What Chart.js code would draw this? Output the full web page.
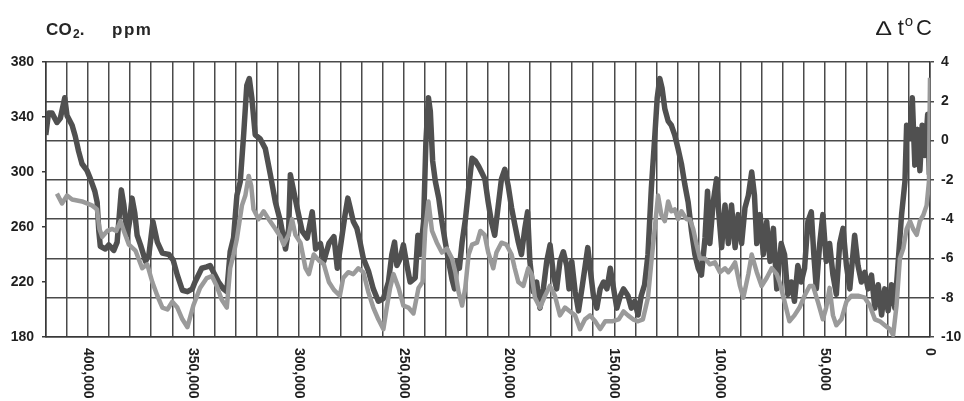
<!DOCTYPE html>
<html>
<head>
<meta charset="utf-8">
<title>CO2 and temperature, last 420,000 years</title>
<script src="https://cdn.jsdelivr.net/npm/chart.js@4/dist/chart.umd.min.js"></script>
<style>
  html, body { margin: 0; padding: 0; background: #fff; }
  #wrap { position: relative; width: 964px; height: 401px; overflow: hidden; }
  #chart { position: absolute; left: 0; top: 0; }
  .title { position: absolute; color: #262626; font-family: "Liberation Sans", Arial, sans-serif; line-height: 1; white-space: nowrap; }
  #tLeft { left: 46px; top: 21px; font-size: 17px; font-weight: bold; letter-spacing: 0.3px; }
  #tLeft .sub { font-size: 12px; position: relative; top: 3px; letter-spacing: 0; margin-left: 1px; }
  #tUnit { left: 112px; top: 21px; font-size: 17px; font-weight: bold; letter-spacing: 1.5px; }
  #tRight { right: 32px; top: 17px; font-size: 22px; color: #1f1f1f; }
  #tRight .delta { display: inline-block; font-size: 20px; transform: scaleX(1.25); transform-origin: right center; margin-right: 6px; }
  #tRight .deg { font-size: 15px; position: relative; top: -9px; margin: 0 3px 0 1px; }
</style>
</head>
<body>
<div id="wrap">
  <canvas id="chart" width="964" height="401"></canvas>
  <div class="title" id="tLeft">CO<span class="sub">2</span>.</div>
  <div class="title" id="tUnit">ppm</div>
  <div class="title" id="tRight"><span class="delta">∆</span>t<span class="deg">o</span>C</div>
</div>
<script>
// Years before present (thousands) and CO2 concentration, ppm
const co2Age = [
  420.1, 418.8, 417.2, 414.8, 413.2, 411.1, 410.0, 407.6, 406.1, 404.5,
  402.9, 400.5, 398.9, 396.8, 395.7, 394.9, 394.2, 391.8, 390.2, 387.8,
  386.2, 384.2, 383.0, 381.4, 380.3, 379.1, 377.8, 376.7, 375.1, 372.7,
  371.1, 369.2, 367.1, 364.7, 361.6, 359.6, 357.6, 355.2, 352.8, 350.5,
  349.2, 346.0, 343.6, 342.0, 340.4, 338.0, 335.7, 334.1, 332.5, 330.9,
  329.3, 327.7, 326.1, 324.6, 323.4, 322.2, 320.6, 318.2, 315.8, 313.4,
  311.0, 308.6, 306.2, 304.7, 303.9, 302.3, 300.7, 298.3, 295.9, 293.5,
  291.9, 289.6, 288.0, 285.6, 283.2, 281.6, 279.5, 277.9, 276.6, 275.5,
  274.0, 272.3, 270.8, 269.2, 266.8, 264.5, 262.1, 259.7, 257.3, 255.7,
  254.4, 253.3, 251.7, 250.2, 248.5, 247.0, 244.6, 243.3, 242.2, 240.6,
  239.5, 238.3, 237.4, 236.3, 235.0, 233.4, 231.9, 230.3, 228.7, 227.1,
  225.9, 224.7, 223.6, 222.3, 220.7, 219.2, 217.6, 216.0, 214.4, 213.1,
  211.5, 209.9, 208.4, 206.8, 205.1, 203.6, 202.0, 200.4, 198.8, 197.3,
  195.6, 194.1, 192.5, 191.2, 190.1, 188.5, 186.9, 185.3, 183.7, 182.1,
  180.5, 178.9, 177.4, 175.8, 174.2, 172.6, 171.5, 170.2, 168.6, 167.0,
  165.4, 163.8, 162.6, 161.5, 159.9, 158.3, 156.7, 155.1, 153.5, 151.9,
  150.3, 148.8, 147.1, 145.6, 143.5, 141.9, 140.3, 138.7, 137.2, 135.6,
  134.0, 132.4, 130.8, 129.6, 128.4, 127.3, 126.0, 124.4, 122.9, 121.3,
  119.7, 118.1, 116.5, 114.9, 113.3, 111.7, 110.1, 108.6, 106.9, 105.7,
  104.6, 103.0, 101.4, 100.3, 99.0, 97.4, 95.8, 94.3, 92.6, 91.1,
  89.5, 87.9, 86.3, 84.7, 83.4, 82.3, 80.7, 79.2, 77.6, 76.0,
  74.4, 72.8, 70.7, 69.1, 67.6, 65.9, 64.4, 62.8, 61.2, 59.6,
  58.0, 56.4, 55.2, 54.0, 52.4, 50.9, 49.3, 47.7, 46.1, 44.5,
  42.9, 41.3, 39.7, 38.1, 35.8, 34.2, 32.6, 31.0, 29.4, 27.8,
  26.2, 24.6, 23.0, 21.5, 19.9, 18.3, 16.7, 15.1, 13.5, 11.9,
  11.1, 9.5, 8.4, 7.2, 5.9, 4.8, 3.7, 2.4, 1.1, 0.3
];
const co2Ppm = [
  327, 343, 343, 336, 339, 354, 341, 334, 326, 315,
  306, 301, 295, 286, 278, 257, 246, 244, 247, 243,
  249, 287, 276, 254, 264, 281, 270, 254, 247, 235,
  240, 264, 249, 241, 240, 236, 225, 214, 213, 215,
  220, 230, 231, 232, 227, 220, 215, 213, 242, 252,
  283, 293, 327, 363, 368, 354, 327, 324, 317, 298,
  278, 264, 244, 259, 298, 286, 274, 257, 252, 271,
  244, 248, 235, 248, 253, 230, 252, 269, 281, 274,
  264, 259, 249, 237, 228, 215, 206, 208, 220, 240,
  249, 232, 237, 247, 232, 220, 223, 254, 240, 264,
  322, 354, 344, 308, 293, 281, 264, 249, 235, 222,
  215, 235, 230, 249, 266, 288, 310, 308, 304, 300,
  295, 278, 264, 254, 276, 295, 302, 290, 274, 262,
  249, 240, 259, 271, 235, 213, 220, 201, 215, 235,
  247, 225, 215, 235, 242, 232, 215, 235, 213, 199,
  215, 232, 245, 230, 210, 201, 215, 220, 215, 230,
  215, 201, 210, 215, 210, 201, 206, 196, 210, 218,
  240, 288, 325, 354, 368, 361, 346, 337, 334, 327,
  317, 306, 291, 278, 257, 240, 230, 225, 252, 286,
  248, 278, 295, 269, 245, 276, 248, 276, 245, 269,
  248, 274, 283, 300, 283, 248, 269, 240, 264, 235,
  259, 215, 248, 240, 211, 220, 206, 232, 220, 230,
  264, 271, 240, 215, 248, 269, 235, 248, 225, 211,
  248, 259, 232, 215, 254, 232, 220, 227, 215, 225,
  201, 218, 196, 215, 199, 218, 201, 235, 269, 293,
  334, 325, 354, 305, 331, 301, 334, 312, 342, 298
];

// Years before present (thousands) and temperature difference, °C
const tempAge = [
  414.8, 412.4, 410.0, 407.6, 402.9, 398.2, 395.8, 394.6, 393.3, 390.9,
  388.5, 386.6, 384.6, 383.0, 380.6, 377.5, 374.3, 371.9, 369.5, 367.1,
  364.7, 362.3, 360.0, 357.6, 355.2, 352.8, 350.0, 346.8, 343.6, 341.2,
  338.9, 336.5, 334.1, 332.5, 330.9, 329.3, 326.9, 325.3, 323.7, 322.5,
  321.4, 319.0, 316.6, 314.2, 311.0, 308.6, 307.1, 304.7, 303.1, 301.5,
  299.1, 296.7, 295.1, 292.8, 290.4, 288.0, 285.6, 283.2, 280.4, 278.8,
  276.4, 274.0, 271.6, 269.2, 266.9, 264.5, 262.1, 259.7, 258.1, 256.5,
  254.9, 252.5, 250.2, 247.8, 245.4, 243.0, 241.1, 239.8, 238.3, 236.6,
  234.3, 231.9, 229.5, 227.1, 225.5, 224.0, 222.3, 220.8, 219.2, 217.6,
  215.2, 213.6, 211.6, 209.9, 207.5, 206.0, 203.6, 201.2, 198.8, 197.3,
  195.6, 193.2, 190.9, 189.3, 187.7, 185.3, 182.9, 180.6, 178.2, 175.8,
  173.4, 171.0, 168.6, 166.3, 163.9, 161.5, 159.1, 156.7, 154.3, 151.1,
  147.9, 145.6, 143.5, 141.1, 138.7, 136.4, 134.0, 132.4, 130.8, 129.2,
  127.6, 126.0, 124.4, 122.9, 121.3, 119.7, 118.1, 115.7, 114.1, 112.5,
  110.9, 109.3, 106.9, 104.6, 102.2, 99.8, 97.4, 95.8, 94.3, 92.6,
  90.3, 88.7, 86.3, 84.7, 82.3, 80.0, 77.6, 75.2, 72.8, 71.5,
  69.1, 66.8, 64.4, 62.0, 59.6, 57.2, 55.6, 53.3, 50.9, 49.3,
  47.7, 46.1, 44.5, 42.1, 39.7, 37.3, 34.2, 31.0, 28.6, 26.2,
  23.8, 21.5, 19.1, 17.5, 15.9, 14.3, 12.7, 11.1, 9.5, 8.0,
  6.3, 4.8, 3.2, 1.6, 0.5, 0.0
];
const tempDelta = [
  -2.7, -3.2, -2.8, -3.0, -3.1, -3.3, -3.5, -4.5, -4.9, -4.6,
  -4.5, -4.6, -4.1, -4.6, -5.3, -5.6, -6.5, -6.3, -7.2, -7.9,
  -8.5, -8.6, -8.2, -8.5, -9.1, -9.5, -8.4, -7.5, -7.0, -6.9,
  -7.4, -8.1, -8.5, -6.5, -5.8, -5.0, -3.3, -2.8, -1.8, -2.3,
  -3.5, -4.0, -3.6, -4.0, -4.5, -4.9, -5.3, -4.8, -4.0, -4.8,
  -5.2, -6.5, -6.8, -5.8, -6.1, -6.3, -7.2, -7.6, -7.9, -7.0,
  -6.7, -6.8, -6.5, -6.7, -7.7, -8.5, -9.1, -9.6, -8.5, -7.5,
  -6.8, -7.5, -8.4, -8.5, -8.8, -7.5, -7.2, -4.5, -3.1, -4.6,
  -5.2, -5.7, -5.5, -6.0, -6.7, -7.7, -8.4, -7.5, -5.8, -5.3,
  -5.2, -4.6, -4.8, -5.7, -6.5, -5.7, -5.2, -5.3, -5.8, -6.5,
  -7.2, -7.4, -6.5, -6.8, -8.0, -8.5, -7.9, -7.4, -7.9, -8.9,
  -8.5, -8.7, -8.9, -9.6, -9.1, -8.9, -9.2, -9.6, -9.2, -9.2,
  -9.1, -8.7, -8.9, -9.1, -9.2, -9.1, -8.0, -6.2, -4.5, -2.8,
  -3.8, -4.1, -3.1, -3.6, -3.5, -4.0, -3.6, -4.0, -4.0, -4.5,
  -5.3, -6.0, -6.0, -6.3, -6.2, -6.7, -6.5, -6.7, -6.5, -6.2,
  -7.4, -8.0, -6.8, -5.8, -6.7, -7.4, -7.0, -6.5, -6.8, -7.2,
  -8.2, -9.2, -8.9, -8.5, -7.9, -7.4, -7.4, -8.2, -9.1, -8.5,
  -7.5, -8.9, -9.4, -9.1, -8.2, -7.9, -7.9, -8.0, -8.4, -9.1,
  -9.2, -9.4, -9.6, -9.9, -8.4, -6.0, -5.5, -4.5, -4.1, -4.5,
  -4.8, -4.1, -3.8, -3.3, -2.1, 3.2
];

// Axis ranges and tick labels
const ageTickValues = [400000, 350000, 300000, 250000, 200000, 150000, 100000, 50000, 0];
const ageTickLabels = ['400,000', '350,000', '300,000', '250,000', '200,000', '150,000', '100,000', '50,000', '0'];
const co2Range = [180, 380];
const tempRange = [-10, 4];

const gridColor = '#4a4a4a';
const textColor = '#1f1f1f';
const tickFont = { family: '"Liberation Sans", Arial, sans-serif', size: 14, weight: 'bold' };

// Vertical, top-to-bottom age labels under the time axis
const ageLabels = {
  id: 'ageLabels',
  afterDraw(chart) {
    const xs = chart.scales.x;
    const ctx = chart.ctx;
    ctx.save();
    ctx.font = 'bold 14px "Liberation Sans", Arial, sans-serif';
    ctx.fillStyle = textColor;
    ctx.textAlign = 'left';
    ctx.textBaseline = 'middle';
    ageTickValues.forEach((v, i) => {
      const px = xs.getPixelForValue(v);
      ctx.save();
      ctx.translate(px, xs.top + 11);
      ctx.rotate(Math.PI / 2);
      ctx.fillText(ageTickLabels[i], 0, 0);
      ctx.restore();
    });
    ctx.restore();
  }
};

new Chart(document.getElementById('chart'), {
  type: 'line',
  data: {
    datasets: [
      {
        label: 'Δt, °C',
        data: tempAge.map((a, i) => ({ x: a * 1000, y: tempDelta[i] })),
        yAxisID: 'yT',
        borderColor: '#9a9a9a',
        borderWidth: 4.5,
        borderJoinStyle: 'round',
        pointRadius: 0,
        tension: 0,
        order: 0
      },
      {
        label: 'CO2, ppm',
        data: co2Age.map((a, i) => ({ x: a * 1000, y: co2Ppm[i] })),
        yAxisID: 'yCO2',
        borderColor: '#505050',
        borderWidth: 5.5,
        borderJoinStyle: 'round',
        pointRadius: 0,
        tension: 0,
        order: 1
      }
    ]
  },
  options: {
    responsive: false,
    animation: false,
    devicePixelRatio: 1,
    layout: { padding: { top: 62, left: 0, right: 0, bottom: 0 } },
    plugins: { legend: { display: false }, tooltip: { enabled: false } },
    scales: {
      x: {
        type: 'linear',
        reverse: true,
        min: 0,
        max: 420000,
        ticks: { stepSize: 10000, display: false, autoSkip: false },
        grid: { color: gridColor, lineWidth: 1.5, drawTicks: false },
        border: { display: true, color: '#383838', width: 1.5 },
        afterFit(scale) { scale.height = 64; }
      },
      yCO2: {
        position: 'left',
        min: co2Range[0],
        max: co2Range[1],
        ticks: { stepSize: 40, font: tickFont, color: textColor, padding: 8 },
        grid: { drawOnChartArea: false, drawTicks: true, tickLength: 4, color: '#383838', lineWidth: 1.5 },
        border: { display: true, color: '#383838', width: 1.5 },
        afterFit(scale) { scale.width = 46; }
      },
      yT: {
        position: 'right',
        min: tempRange[0],
        max: tempRange[1],
        ticks: { stepSize: 2, font: tickFont, color: textColor, padding: 7 },
        grid: { drawOnChartArea: true, drawTicks: true, tickLength: 4, color: gridColor, lineWidth: 1.5 },
        border: { display: true, color: '#383838', width: 1.5 },
        afterFit(scale) { scale.width = 34; }
      }
    }
  },
  plugins: [ageLabels]
});
</script>
</body>
</html>
